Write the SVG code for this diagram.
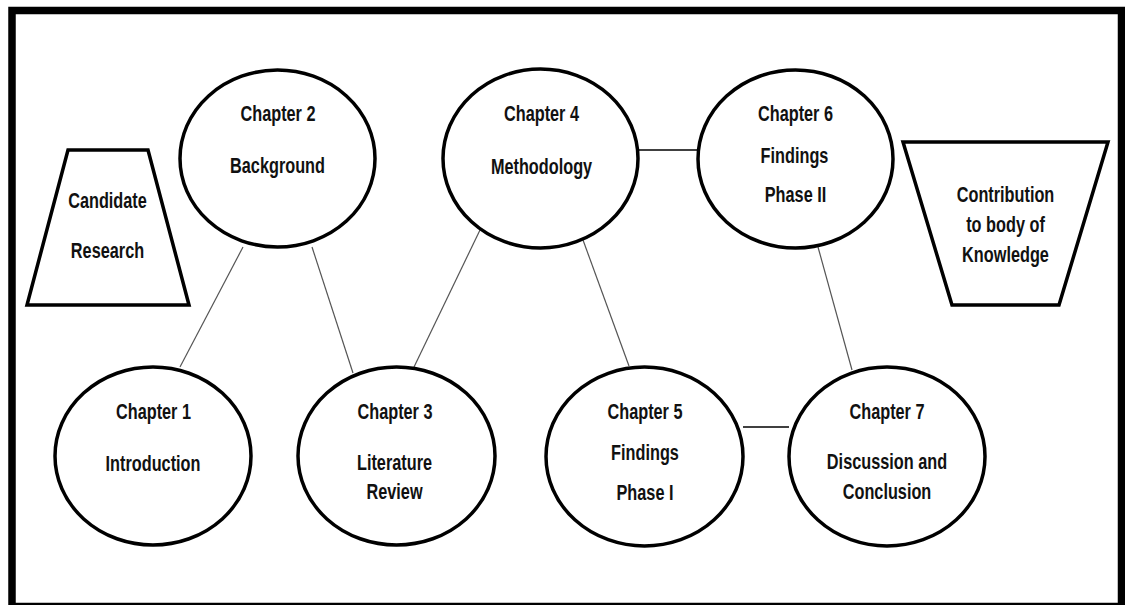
<svg xmlns="http://www.w3.org/2000/svg" width="1125" height="605" viewBox="0 0 1125 605">
<style>
.node{fill:#fff;stroke:#000;stroke-width:3.5}
.t{font-family:"Liberation Sans",Arial,sans-serif;font-size:22px;font-weight:bold;fill:#111;text-anchor:middle}
.thin{stroke:#555;stroke-width:1.2;fill:none}
.link{stroke:#000;stroke-width:1.5;fill:none}
</style>
<rect x="0" y="0" width="1125" height="605" fill="#fff"/>
<rect x="12" y="10.5" width="1109.5" height="596" fill="none" stroke="#000" stroke-width="7.5"/>
<g id="connectors">
<line class="thin" x1="243" y1="247" x2="180" y2="367"/>
<line class="thin" x1="312" y1="247" x2="353" y2="373"/>
<line class="thin" x1="480" y1="230" x2="414" y2="367"/>
<line class="thin" x1="583" y1="240" x2="629" y2="366"/>
<line class="thin" x1="818" y1="247" x2="852" y2="370"/>
<line class="link" x1="638" y1="150" x2="698" y2="150"/>
<line class="link" stroke-width="2.2" x1="743" y1="427" x2="789" y2="427"/>
</g>
<g id="candidate">
<polygon class="node" points="68,150 148,150 189,305 27,305"/>
<text class="t" transform="translate(107.5,207.5) scale(0.74,1)">Candidate</text>
<text class="t" transform="translate(107.5,257.5) scale(0.74,1)">Research</text>
</g>
<g id="contribution">
<polygon class="node" points="903,142 1108,142 1059,305 952,305"/>
<text class="t" transform="translate(1005.5,202) scale(0.74,1)">Contribution</text>
<text class="t" transform="translate(1005.5,232) scale(0.74,1)">to body of</text>
<text class="t" transform="translate(1005.5,262) scale(0.74,1)">Knowledge</text>
</g>
<g id="ch2">
<ellipse class="node" cx="277.5" cy="158.5" rx="97.5" ry="88.5"/>
<text class="t" transform="translate(278,121) scale(0.74,1)">Chapter 2</text>
<text class="t" transform="translate(277.5,173) scale(0.74,1)">Background</text>
</g>
<g id="ch4">
<ellipse class="node" cx="540.5" cy="158.5" rx="97.5" ry="89.5"/>
<text class="t" transform="translate(541.5,121) scale(0.74,1)">Chapter 4</text>
<text class="t" transform="translate(541.5,173.5) scale(0.74,1)">Methodology</text>
</g>
<g id="ch6">
<ellipse class="node" cx="795.5" cy="159" rx="97.5" ry="89"/>
<text class="t" transform="translate(795.5,121) scale(0.74,1)">Chapter 6</text>
<text class="t" transform="translate(794.5,162.5) scale(0.74,1)">Findings</text>
<text class="t" transform="translate(795.5,202) scale(0.74,1)">Phase II</text>
</g>
<g id="ch1">
<ellipse class="node" cx="153" cy="456" rx="98" ry="89"/>
<text class="t" transform="translate(153.5,419) scale(0.74,1)">Chapter 1</text>
<text class="t" transform="translate(153,471) scale(0.74,1)">Introduction</text>
</g>
<g id="ch3">
<ellipse class="node" cx="396.5" cy="456" rx="98.5" ry="89"/>
<text class="t" transform="translate(395,419) scale(0.74,1)">Chapter 3</text>
<text class="t" transform="translate(394.5,469.5) scale(0.74,1)">Literature</text>
<text class="t" transform="translate(394.5,498.5) scale(0.74,1)">Review</text>
</g>
<g id="ch5">
<ellipse class="node" cx="644.5" cy="456.5" rx="98.5" ry="89.5"/>
<text class="t" transform="translate(645,419) scale(0.74,1)">Chapter 5</text>
<text class="t" transform="translate(645,459.5) scale(0.74,1)">Findings</text>
<text class="t" transform="translate(645,499.5) scale(0.74,1)">Phase I</text>
</g>
<g id="ch7">
<ellipse class="node" cx="887" cy="456.5" rx="98" ry="89.5"/>
<text class="t" transform="translate(887,419) scale(0.74,1)">Chapter 7</text>
<text class="t" transform="translate(887,468.5) scale(0.74,1)">Discussion and</text>
<text class="t" transform="translate(887,498.5) scale(0.74,1)">Conclusion</text>
</g>
</svg>
